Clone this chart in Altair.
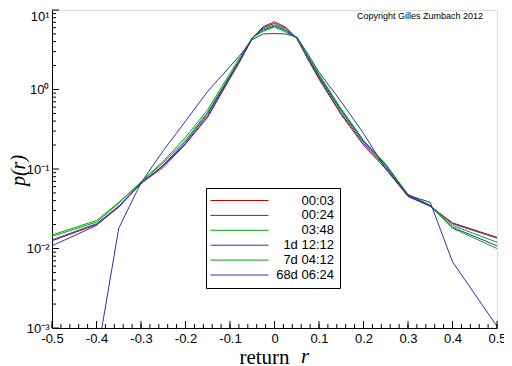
import altair as alt
import pandas as pd

# ---- data ----
returns = [-0.5, -0.4, -0.35, -0.3, -0.25, -0.2, -0.15, -0.1, -0.075, -0.05, -0.025, 0.0,
           0.025, 0.05, 0.075, 0.1, 0.15, 0.2, 0.25, 0.3, 0.35, 0.4, 0.5]
p_0003 = [0.0125, 0.0200, 0.033, 0.066, 0.105, 0.205, 0.45, 1.38, 2.40, 4.40, 6.20, 7.10,
          6.10, 4.40, 2.40, 1.35, 0.48, 0.20, 0.100, 0.045, 0.034, 0.0210, 0.0138]
p_0024 = [0.0128, 0.0205, 0.034, 0.066, 0.110, 0.210, 0.47, 1.42, 2.45, 4.40, 6.00, 6.80,
          5.90, 4.40, 2.45, 1.40, 0.50, 0.21, 0.105, 0.046, 0.034, 0.0205, 0.0135]
p_0348 = [0.0148, 0.0225, 0.038, 0.068, 0.120, 0.230, 0.52, 1.50, 2.55, 4.45, 5.80, 6.50,
          5.70, 4.45, 2.50, 1.45, 0.53, 0.22, 0.110, 0.047, 0.035, 0.0195, 0.0120]
p_1d12 = [0.0108, 0.0195, 0.034, 0.066, 0.112, 0.220, 0.50, 1.46, 2.50, 4.45, 5.60, 6.30,
          5.50, 4.45, 2.55, 1.50, 0.55, 0.225, 0.112, 0.047, 0.034, 0.0185, 0.0108]
p_7d04 = [0.0142, 0.0215, 0.037, 0.069, 0.125, 0.250, 0.56, 1.60, 2.70, 4.50, 5.40, 6.10,
          5.30, 4.45, 2.65, 1.55, 0.57, 0.23, 0.115, 0.048, 0.035, 0.0180, 0.0100]
p_68d = [0.00001, 0.0004, 0.018, 0.067, 0.17, 0.40, 0.95, 1.95, 2.80, 4.25, 5.00, 5.05,
         5.00, 4.60, 2.80, 1.65, 0.70, 0.28, 0.100, 0.047, 0.038, 0.0068, 0.00105]

series_names = ["00:03", "00:24", "03:48", "1d 12:12", "7d 04:12", "68d 06:24"]
series_values = [p_0003, p_0024, p_0348, p_1d12, p_7d04, p_68d]
series_colors = ["#c80000", "#3030b8", "#00aa00", "#3030b8", "#00aa00", "#3030b8"]

x_major = [-0.5, -0.4, -0.3, -0.2, -0.1, 0.0, 0.1, 0.2, 0.3, 0.4, 0.5]
x_minor = [round(-0.5 + 0.02 * i, 2) for i in range(51)]
y_major = [0.001, 0.01, 0.1, 1, 10]
y_minor = [m * 10.0 ** k for k in (-3, -2, -1, 0) for m in range(2, 10)]

rows = []
for name, vals in zip(series_names, series_values):
    for i, (r, p) in enumerate(zip(returns, vals)):
        rows.append({"series": name, "r": r, "p": p, "i": i})
df = pd.DataFrame(rows)

W, H = 445, 318
xs = alt.Scale(domain=[-0.5, 0.5], nice=False, zero=False)
ys = alt.Scale(type="log", domain=[0.001, 10], nice=False)

x_axis = alt.Axis(
    values=x_major, ticks=False, grid=False, domainColor="black", domainWidth=1,
    labelFont="Liberation Sans", labelFontSize=13, labelColor="black", labelPadding=4,
    labelFlush=False,
    labelExpr="abs(datum.value) < 1e-9 ? '0' : (datum.value < 0 ? '-' : '') + format(abs(datum.value), '.1f')",
    title="return", titleFont="Liberation Serif", titleFontSize=21,
    titleFontWeight="normal", titleColor="black", titleX=212, titleY=35,
    titleAlign="center", titleBaseline="alphabetic",
)
y_axis = alt.Axis(
    values=y_major, ticks=False, grid=False, domainColor="black", domainWidth=1,
    labelFont="Liberation Sans", labelFontSize=13, labelColor="black", labelPadding=3,
    labelFlush=False,
    labelBaseline={"condition": {"test": "datum.value > 5", "value": "top"}, "value": "middle"},
    labelExpr="'10' + ['\u207b\u00b3', '\u207b\u00b2', '\u207b\u00b9', '\u2070', '\u00b9'][round(log(datum.value) / LN10) + 3]",
    title="p(r)", titleFont="Liberation Serif", titleFontSize=20, titleFontStyle="italic",
    titleFontWeight="normal", titleColor="black", titleAngle=270, titleX=-34, titleY=160,
    titleAlign="center", titleBaseline="middle",
)

lines = alt.Chart(df).mark_line(clip=True, strokeWidth=1).encode(
    x=alt.X("r:Q", scale=xs, axis=x_axis),
    y=alt.Y("p:Q", scale=ys, axis=y_axis),
    color=alt.Color(
        "series:N",
        scale=alt.Scale(domain=series_names, range=series_colors),
        sort=series_names,
        legend=alt.Legend(
            title=None, orient="none", legendX=154, legendY=178,
            symbolType="M-1.6,0H10", symbolSize=100, symbolStrokeWidth=1,
            labelAlign="right", labelOffset=109, labelFont="Liberation Sans",
            labelFontSize=13, labelColor="black", labelLimit=300,
            strokeColor="black", fillColor="white", padding=6, rowPadding=0.9,
        ),
    ),
    detail="series:N",
    order="i:Q",
)

xt_major = alt.Chart(pd.DataFrame({"t": x_major})).mark_rule(color="black", strokeWidth=1).encode(
    x=alt.X("t:Q", scale=xs), y=alt.value(H), y2=alt.value(H - 7))
xt_minor = alt.Chart(pd.DataFrame({"t": x_minor})).mark_rule(color="black", strokeWidth=1).encode(
    x=alt.X("t:Q", scale=xs), y=alt.value(H), y2=alt.value(H - 4))
yt_major = alt.Chart(pd.DataFrame({"t": y_major})).mark_rule(color="black", strokeWidth=1).encode(
    y=alt.Y("t:Q", scale=ys), x=alt.value(0), x2=alt.value(7))
yt_minor = alt.Chart(pd.DataFrame({"t": y_minor})).mark_rule(color="black", strokeWidth=1).encode(
    y=alt.Y("t:Q", scale=ys), x=alt.value(0), x2=alt.value(4))

copyright_txt = alt.Chart(pd.DataFrame({"c": [0]})).mark_text(
    font="Liberation Sans", fontSize=9, color="black", align="center", baseline="middle"
).encode(x=alt.value(368), y=alt.value(6), text=alt.value("Copyright Gilles Zumbach 2012"))

# italic variable name next to the x-axis title
x_title_var = alt.Chart(pd.DataFrame({"c": [0]})).mark_text(
    font="Liberation Serif", fontSize=21, fontStyle="italic", color="black",
    align="center", baseline="alphabetic"
).encode(x=alt.value(253), y=alt.value(H + 35), text=alt.value("r"))

chart = alt.layer(lines, xt_minor, xt_major, yt_minor, yt_major, copyright_txt, x_title_var).properties(
    width=W, height=H,
    autosize=alt.AutoSizeParams(type="none"),
    padding={"left": 44, "top": 2, "right": 7, "bottom": 40},
).configure_view(stroke=None).configure(background="white")

chart.save("out.html", embed_options={"renderer": "svg", "actions": False})
